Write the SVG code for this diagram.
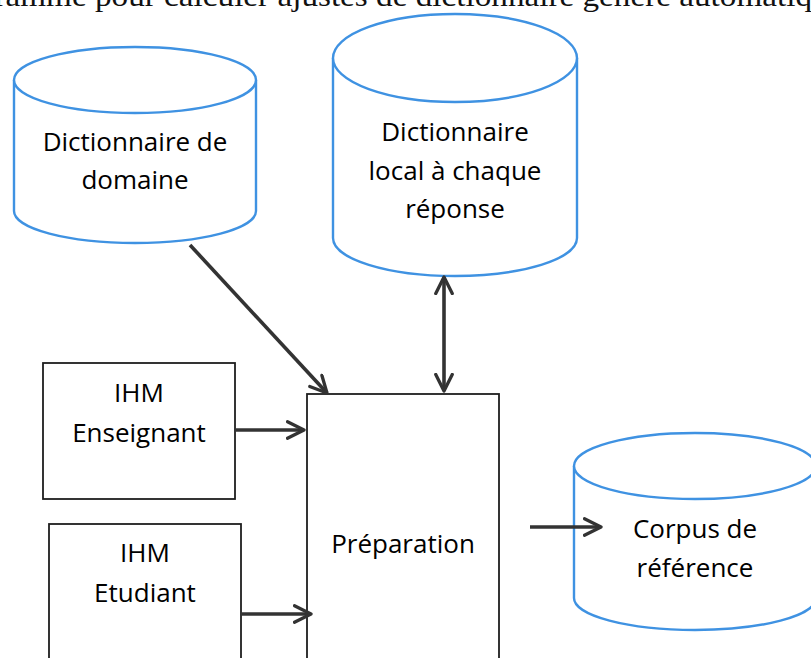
<svg xmlns="http://www.w3.org/2000/svg" width="811" height="658" viewBox="0 0 811 658">
<style>
.cyl{fill:#fff;stroke:#3f92e2;stroke-width:2.4}
.box{fill:#fff;stroke:#1e1e1e;stroke-width:1.8}
.lbl{font-family:"Open Sans","Liberation Sans",sans-serif;font-size:26px;fill:#000;text-anchor:middle}
.cap{font-family:"Liberation Serif",serif;font-size:30px;fill:#111}
.con{stroke:#333;stroke-width:3.6;fill:none;marker-end:url(#ah)}
</style>
<defs>
<marker id="ah" viewBox="0 0 12 12" refX="11" refY="6" markerWidth="5.5" markerHeight="5.5" orient="auto-start-reverse" markerUnits="strokeWidth">
<path d="M1,1 L11,6 L1,11" fill="none" stroke="#333" stroke-width="2" stroke-linecap="round" stroke-linejoin="round"/>
</marker>
</defs>
<rect width="811" height="658" fill="#fff"/>
<text class="cap" x="-70" y="6" textLength="882" lengthAdjust="spacingAndGlyphs">Diagramme pour calculer ajustés de dictionnaire généré automatiq</text>

<g id="dict-domaine">
<path class="cyl" d="M14,80 L14,211 A121,32 0 0 0 256,211 L256,80"/>
<ellipse class="cyl" cx="135" cy="80" rx="121" ry="33"/>
<text class="lbl" x="135" y="151">Dictionnaire de</text>
<text class="lbl" x="135" y="189">domaine</text>
</g>

<g id="dict-local">
<path class="cyl" d="M333,58 L333,238 A122,38 0 0 0 577,238 L577,58"/>
<ellipse class="cyl" cx="455" cy="58" rx="122" ry="44"/>
<text class="lbl" x="455" y="141">Dictionnaire</text>
<text class="lbl" x="455" y="180">local à chaque</text>
<text class="lbl" x="455" y="218">réponse</text>
</g>

<g id="corpus">
<path class="cyl" d="M574,466 L574,598 A121,32 0 0 0 816,598 L816,466"/>
<ellipse class="cyl" cx="695" cy="466" rx="121" ry="33"/>
<text class="lbl" x="695" y="538">Corpus de</text>
<text class="lbl" x="695" y="577">référence</text>
</g>

<g id="ihm-enseignant">
<rect class="box" x="43" y="363" width="192" height="136"/>
<text class="lbl" x="139" y="402">IHM</text>
<text class="lbl" x="139" y="442">Enseignant</text>
</g>

<g id="ihm-etudiant">
<rect class="box" x="49" y="524" width="192" height="150"/>
<text class="lbl" x="145" y="562">IHM</text>
<text class="lbl" x="145" y="602">Etudiant</text>
</g>

<g id="preparation">
<rect class="box" x="307" y="394" width="192" height="280"/>
<text class="lbl" x="403" y="553">Préparation</text>
</g>

<g id="connectors">
<line class="con" x1="190" y1="245" x2="327" y2="393"/>
<line class="con" x1="444" y1="277" x2="444" y2="391" style="marker-start:url(#ah)"/>
<line class="con" x1="235" y1="430" x2="304" y2="430"/>
<line class="con" x1="241" y1="614" x2="311" y2="614"/>
<line class="con" x1="530" y1="527" x2="601" y2="527"/>
</g>
</svg>
